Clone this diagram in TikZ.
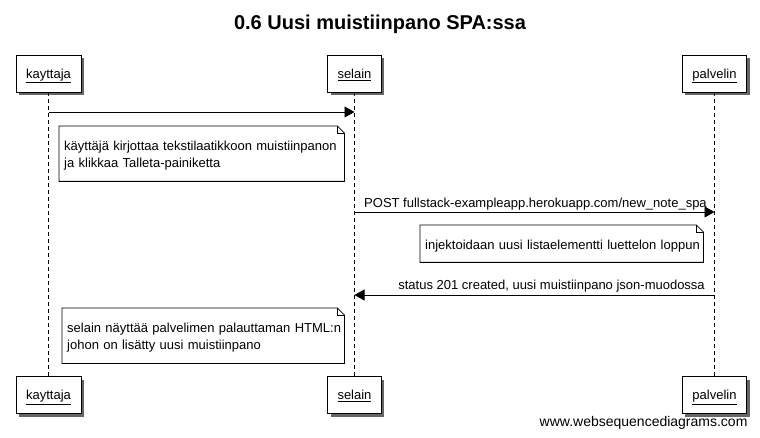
\documentclass[tikz,border=0pt]{standalone}
\usepackage{fontspec}
\setmainfont{Liberation Sans}
\usetikzlibrary{arrows.meta,shadows}
\begin{document}
\begin{tikzpicture}[x=1pt,y=-1pt,
  every node/.style={font=\fontsize{13}{17}\selectfont},
  actor/.style={draw=black, fill=white, line width=0.8pt, minimum height=37pt,
    inner xsep=10pt, inner ysep=0pt, text height=12pt, text depth=2.4pt,
    drop shadow={shadow xshift=3pt, shadow yshift=-3pt, fill=black!60, opacity=1}},
  life/.style={draw=black, line width=0.8pt, dash pattern=on 4pt off 3pt},
  msg/.style={draw=black, line width=0.8pt, -{Triangle[length=10pt,width=11pt]}},
  notebox/.style={draw=none, inner xsep=5pt, inner ysep=0pt, align=left, anchor=north west},
  noteline/.style={draw=black, line width=0.8pt},
  ]
\useasboundingbox (0,0) rectangle (760,438);
\fill[white] (0,0) rectangle (760,438);

% title
\node[font=\fontsize{20}{24}\selectfont\bfseries, anchor=base] (title) at (380,29.5) {0.6 Uusi muistiinpano SPA:ssa};

% participants
\node[actor] (kt) at (48.5,73.5) {\underline{kayttaja}};
\node[actor] (st) at (354.5,73.5) {\underline{selain}};
\node[actor] (pt) at (714.5,73.5) {\underline{palvelin}};
\node[actor] (kb) at (48.5,395) {\underline{kayttaja}};
\node[actor] (sb) at (354.5,395) {\underline{selain}};
\node[actor] (pb) at (714.5,395) {\underline{palvelin}};

% lifelines
\draw[life] (kt.south) -- (kb.north);
\draw[life] (st.south) -- (sb.north);
\draw[life] (pt.south) -- (pb.north);

% message 1
\coordinate (m1a) at (kt.south |- 0,112);
\coordinate (m1b) at (st.south |- 0,112);
\draw[msg] (m1a) -- (m1b);

% note 1
\node[notebox, minimum height=55pt, text width=275pt] (n1) at (59,126)
  {\rule{0pt}{14pt}\mbox{käyttäjä kirjottaa tekstilaatikkoon muistiinpanon}\\\mbox{ja klikkaa Talleta-painiketta}};
\draw[noteline] (n1.north west) -- ([xshift=-7pt]n1.north east) -- ([yshift=-7pt]n1.north east)
  -- (n1.south east) -- (n1.south west) -- cycle;
\draw[noteline] ([xshift=-7pt]n1.north east) |- ([yshift=-7pt]n1.north east);

% message 2
\coordinate (m2a) at (st.south |- 0,212);
\coordinate (m2b) at (pt.south |- 0,212);
\draw[msg] (m2a) -- (m2b)
  node[pos=0, anchor=base west, xshift=6pt, yshift=4pt] (l2) {POST fullstack-exampleapp.herokuapp.com/new\_note\_spa};

% note 2
\node[notebox, minimum height=37pt, text width=273pt] (n2) at (420,225)
  {\rule{0pt}{14pt}\mbox{injektoidaan uusi listaelementti luettelon loppun}};
\draw[noteline] (n2.north west) -- ([xshift=-7pt]n2.north east) -- ([yshift=-7pt]n2.north east)
  -- (n2.south east) -- (n2.south west) -- cycle;
\draw[noteline] ([xshift=-7pt]n2.north east) |- ([yshift=-7pt]n2.north east);

% message 3
\coordinate (m3a) at (pt.south |- 0,295);
\coordinate (m3b) at (st.south |- 0,295);
\draw[msg] (m3a) -- (m3b)
  node[pos=0, anchor=base east, xshift=-6pt, yshift=5pt] (l3) {status 201 created, uusi muistiinpano json-muodossa};

% note 3
\node[notebox, minimum height=55pt, text width=272pt] (n3) at (62,308)
  {\rule{0pt}{14pt}\mbox{selain näyttää palvelimen palauttaman HTML:n}\\\mbox{johon on lisätty uusi muistiinpano}};
\draw[noteline] (n3.north west) -- ([xshift=-7pt]n3.north east) -- ([yshift=-7pt]n3.north east)
  -- (n3.south east) -- (n3.south west) -- cycle;
\draw[noteline] ([xshift=-7pt]n3.north east) |- ([yshift=-7pt]n3.north east);

% watermark
\node[font=\fontsize{14}{17}\selectfont, anchor=base east] (wm) at (751,426.5) {www.websequencediagrams.com};
\end{tikzpicture}
\end{document}
